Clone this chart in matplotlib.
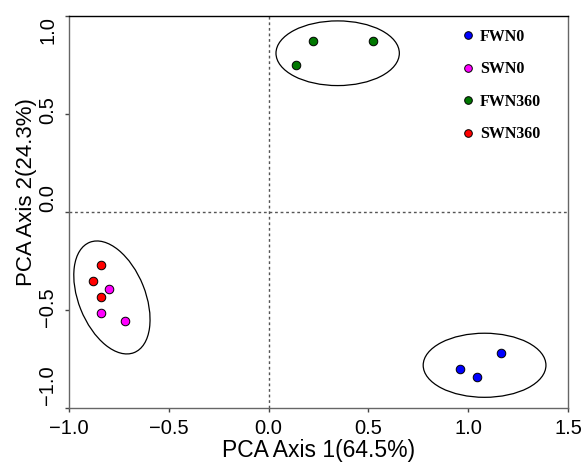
import matplotlib
matplotlib.use("Agg")
import matplotlib.pyplot as plt
from matplotlib.patches import Ellipse
from matplotlib.lines import Line2D
from matplotlib.transforms import offset_copy

# ---- data ----
groups = ["FWN0", "SWN0", "FWN360", "SWN360"]
colors = ["#0000FF", "#FF00FF", "#007700", "#FF0000"]
fwn0_x = [1.162, 0.958, 1.042]
fwn0_y = [-0.721, -0.803, -0.843]
swn0_x = [-0.800, -0.842, -0.718]
swn0_y = [-0.394, -0.517, -0.558]
fwn360_x = [0.222, 0.522, 0.137]
fwn360_y = [0.872, 0.872, 0.750]
swn360_x = [-0.842, -0.882, -0.842]
swn360_y = [-0.270, -0.352, -0.435]

# confidence ellipses: center x, center y, width, height, angle
ell_cx = [1.082, 0.346, -0.785]
ell_cy = [-0.782, 0.810, -0.436]
ell_w = [0.615, 0.618, 0.605]
ell_h = [0.327, 0.330, 0.335]
ell_ang = [0, 0, 111.4]

xticks = [-1.0, -0.5, 0.0, 0.5, 1.0, 1.5]
yticks = [-1.0, -0.5, 0.0, 0.5, 1.0]
# vertical nudges (pixels, downwards) of the y tick labels as drawn in the reference
ytick_label_nudge = [-23, -3, -13.5, -3.5, 14]
xlabel = "PCA Axis 1(64.5%)"
ylabel = "PCA Axis 2(24.3%)"


def fmt(v):
    return f"{v:.1f}".replace("-", "\u2212")


W, H = 584, 463
fig = plt.figure(figsize=(W / 100, H / 100), dpi=100)
ax = fig.add_axes([69 / W, 1 - 408 / H, (568 - 69) / W, (408 - 16) / H])

sans = "Liberation Sans"
serif = "Liberation Serif"

ax.set_xlim(-1.0, 1.5)
ax.set_ylim(-1.0, 1.0)

ax.axvline(0, color="#555555", lw=1, ls=(0, (2, 2)), zorder=1)
ax.axhline(0, color="#555555", lw=1, ls=(0, (2, 2)), zorder=1)

for cx, cy, w, h, a in zip(ell_cx, ell_cy, ell_w, ell_h, ell_ang):
    ax.add_patch(Ellipse((cx, cy), w, h, angle=a, fill=False,
                         edgecolor="black", lw=0.9, zorder=2))

series = [(fwn0_x, fwn0_y), (swn0_x, swn0_y), (fwn360_x, fwn360_y), (swn360_x, swn360_y)]
for (xs, ys), c in zip(series, colors):
    ax.scatter(xs, ys, s=38, c=c, edgecolors="black", linewidths=0.7, zorder=3)

ax.set_xticks(xticks)
ax.set_yticks(yticks)
ax.set_xticklabels([fmt(t) for t in xticks], fontfamily=sans, fontsize=14.5)
ax.tick_params(axis="x", length=3, width=1, color="#444444", pad=5)
ax.tick_params(axis="y", length=3, width=1, color="#444444", labelleft=False)

ytrans = ax.get_yaxis_transform()
for t, nud in zip(yticks, ytick_label_nudge):
    tr = offset_copy(ytrans, fig=fig, x=-11.5, y=-nud, units="dots")
    ax.text(0, t, fmt(t), transform=tr, rotation=90, ha="right", va="center",
            fontfamily=sans, fontsize=14.5)

for side in ["left", "bottom", "right"]:
    ax.spines[side].set_color("#666666")
    ax.spines[side].set_linewidth(1)
ax.spines["top"].set_color("black")
ax.spines["top"].set_linewidth(1)

ax.set_xlabel(xlabel, fontfamily=sans, fontsize=16.5)
ax.set_ylabel(ylabel, fontfamily=sans, fontsize=16)
ax.xaxis.set_label_coords(0.5, -0.079)
ax.yaxis.set_label_coords(-0.0647, 0.55)

handles = [Line2D([], [], ls="none", marker="o", markersize=5.5, markerfacecolor=c,
                  markeredgecolor="black", markeredgewidth=0.7) for c in colors]
leg = ax.legend(handles, groups, loc="upper left",
                bbox_to_anchor=(460 / W, 1 - 29 / H), bbox_transform=fig.transFigure,
                frameon=False, borderpad=0, borderaxespad=0, handlelength=1.0,
                handletextpad=0.25, labelspacing=1.03,
                prop={"family": serif, "size": 11.5, "weight": "bold"})

fig.savefig("out.png", dpi=100)
